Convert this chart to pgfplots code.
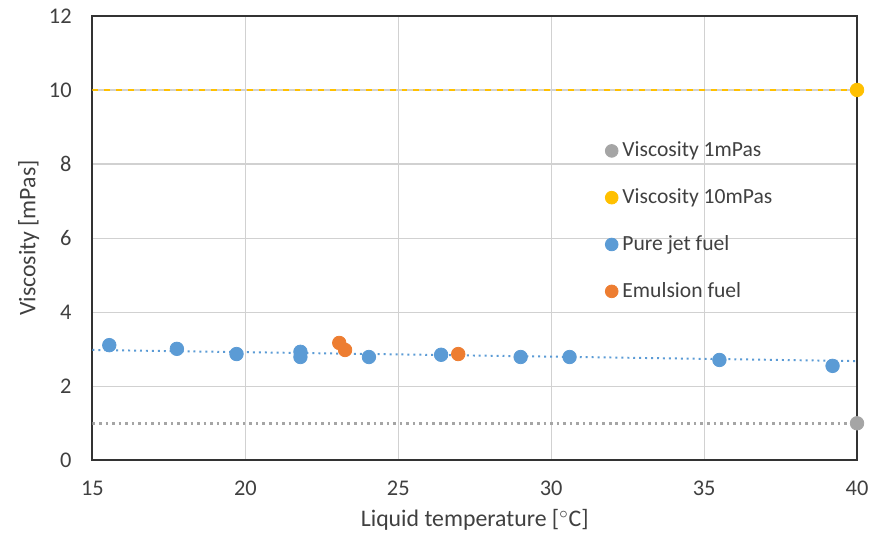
\documentclass[border=0pt]{standalone}
\usepackage{fontspec}
\setmainfont{Carlito}
\usepackage{pgfplots}
\pgfplotsset{compat=1.18}
\definecolor{cgray}{HTML}{A5A5A5}
\definecolor{cyel}{HTML}{FFC000}
\definecolor{cblue}{HTML}{5B9BD5}
\definecolor{corange}{HTML}{ED7D31}
\definecolor{ctext}{HTML}{404040}
\begin{document}
\begin{tikzpicture}
\begin{axis}[
  at={(0,0)}, anchor=south west,
  scale only axis, width=384.5bp, height=223.5bp,
  xmin=15, xmax=40, ymin=0, ymax=12,
  xtick={15,20,25,30,35,40}, ytick={0,2,...,12},
  grid=major, major grid style={draw=black!18, line width=0.6pt},
  axis line style={draw=black!80, line width=1pt},
  tick style={draw=none},
  /pgf/number format/assume math mode=true,
  ticklabel style={font=\fontsize{11.3}{13}\selectfont, text=ctext},
  xticklabel style={yshift=-7pt},
  yticklabel style={xshift=-7pt},
  xlabel={Liquid temperature [$^\circ$C]},
  ylabel={Viscosity [mPas]},
  label style={font=\fontsize{12}{14}\selectfont, text=ctext},
  xlabel style={yshift=0pt},
  ylabel style={yshift=-2pt},
  legend style={draw=none, fill=none, at={(0.662,0.735)}, anchor=north west,
    font=\fontsize{10.9}{13}\selectfont, text=ctext, row sep=10.6pt},
  legend cell align=left,
  legend image code/.code={\draw[#1] (0.2em,0) circle (3.2bp);},
]
\addplot[cgray, dotted, line width=1.3pt, forget plot] coordinates {(15,1) (40,1)};
\addplot[cyel, dashed, line width=1pt, forget plot] coordinates {(15,10) (40,10)};
\addplot[cblue, dotted, line width=1pt, forget plot] coordinates {(15,2.98) (40,2.68)};
\addplot[only marks, mark=*, mark size=3.4bp, mark options={draw=cgray, fill=cgray}, draw=cgray, fill=cgray] coordinates {(40,1)};
\addlegendentry{Viscosity 1mPas}
\addplot[only marks, mark=*, mark size=3.4bp, mark options={draw=cyel, fill=cyel}, draw=cyel, fill=cyel] coordinates {(40,10)};
\addlegendentry{Viscosity 10mPas}
\addplot[only marks, mark=*, mark size=3.4bp, mark options={draw=cblue, fill=cblue}, draw=cblue, fill=cblue] coordinates {
(15.55,3.11) (17.76,3.01) (19.71,2.87) (21.8,2.93) (21.8,2.79) (24.04,2.79)
(26.4,2.85) (29.0,2.79) (30.6,2.79) (35.5,2.71) (39.2,2.55)};
\addlegendentry{Pure jet fuel}
\addplot[only marks, mark=*, mark size=3.4bp, mark options={draw=corange, fill=corange}, draw=corange, fill=corange] coordinates {
(23.07,3.17) (23.26,2.98) (26.96,2.87)};
\addlegendentry{Emulsion fuel}
\end{axis}
\path[use as bounding box] (-46.5bp,-36.5bp) rectangle (391bp,231.5bp);
\end{tikzpicture}
\end{document}
